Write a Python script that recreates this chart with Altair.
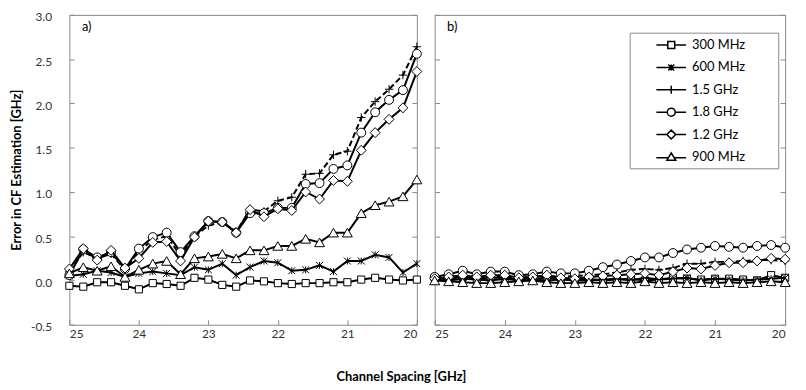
import altair as alt
import pandas as pd

# ---------------- data ----------------
spacing = [25.0, 24.8, 24.6, 24.4, 24.2, 24.0, 23.8, 23.6, 23.4, 23.2, 23.0, 22.8, 22.6,
           22.4, 22.2, 22.0, 21.8, 21.6, 21.4, 21.2, 21.0, 20.8, 20.6, 20.4, 20.2, 20.0]

series = ["300 MHz", "600 MHz", "1.5 GHz", "1.8 GHz", "1.2 GHz", "900 MHz"]

# panel a)
a_300 = [-0.06, -0.07, -0.02, -0.02, -0.06, -0.10, -0.03, -0.04, -0.06, 0.03, 0.01, -0.05, -0.07,
         0.00, -0.01, -0.03, -0.04, -0.03, -0.03, -0.02, -0.02, 0.01, 0.03, 0.01, 0.00, 0.01]
a_600 = [0.05, 0.07, 0.11, 0.09, 0.04, 0.08, 0.10, 0.08, 0.06, 0.15, 0.12, 0.19, 0.06,
         0.15, 0.22, 0.20, 0.11, 0.12, 0.17, 0.10, 0.22, 0.22, 0.29, 0.26, 0.09, 0.19]
a_1500 = [0.10, 0.32, 0.25, 0.30, 0.12, 0.33, 0.46, 0.50, 0.28, 0.50, 0.62, 0.66, 0.55,
          0.80, 0.78, 0.90, 0.94, 1.20, 1.21, 1.42, 1.46, 1.84, 2.02, 2.16, 2.32, 2.64]
a_1800 = [0.06, 0.35, 0.26, 0.32, 0.13, 0.36, 0.49, 0.54, 0.32, 0.50, 0.67, 0.66, 0.54,
          0.76, 0.76, 0.82, 0.82, 1.09, 1.10, 1.26, 1.30, 1.67, 1.90, 2.04, 2.15, 2.56]
a_1200 = [0.13, 0.36, 0.23, 0.34, 0.14, 0.25, 0.43, 0.44, 0.22, 0.49, 0.67, 0.66, 0.54,
          0.80, 0.72, 0.81, 0.79, 1.00, 0.92, 1.13, 1.12, 1.47, 1.67, 1.82, 1.95, 2.36]
a_900 = [0.08, 0.15, 0.11, 0.16, 0.04, 0.12, 0.19, 0.22, 0.07, 0.25, 0.27, 0.30, 0.25,
         0.34, 0.34, 0.39, 0.39, 0.47, 0.43, 0.54, 0.54, 0.76, 0.85, 0.89, 0.95, 1.14]

# panel b)
b_300 = [0.03, 0.02, 0.04, 0.02, 0.03, 0.03, 0.01, 0.02, 0.03, 0.02, 0.01, 0.02, 0.00,
         0.01, 0.02, 0.00, 0.01, 0.03, 0.02, 0.01, 0.02, 0.02, 0.01, 0.00, 0.06, 0.03]
b_600 = [0.01, 0.00, 0.02, 0.01, 0.00, 0.02, 0.00, 0.01, 0.00, 0.01, 0.00, 0.00, 0.01,
         0.02, 0.00, 0.03, 0.01, 0.02, 0.03, 0.00, 0.02, 0.01, 0.00, 0.01, 0.02, 0.03]
b_1500 = [0.03, 0.04, 0.05, 0.03, 0.05, 0.04, 0.03, 0.04, 0.05, 0.04, 0.05, 0.06, 0.07,
          0.09, 0.12, 0.13, 0.12, 0.14, 0.19, 0.19, 0.21, 0.21, 0.22, 0.23, 0.23, 0.22]
b_1800 = [0.04, 0.07, 0.11, 0.07, 0.10, 0.10, 0.06, 0.07, 0.10, 0.08, 0.08, 0.11, 0.15,
          0.18, 0.22, 0.26, 0.26, 0.31, 0.35, 0.37, 0.39, 0.38, 0.37, 0.39, 0.40, 0.37]
b_1200 = [0.02, 0.04, 0.06, 0.04, 0.06, 0.06, 0.03, 0.04, 0.06, 0.03, 0.02, 0.04, 0.05,
          0.06, 0.07, 0.08, 0.06, 0.10, 0.14, 0.13, 0.17, 0.20, 0.20, 0.22, 0.25, 0.24]
b_900 = [0.00, -0.01, -0.02, -0.03, -0.03, -0.02, -0.01, 0.00, -0.02, -0.03, -0.03, -0.02, -0.03,
         -0.02, -0.03, -0.01, -0.03, -0.02, -0.03, -0.02, -0.03, -0.02, -0.03, -0.02, -0.01, -0.02]

x_ticks = [20, 21, 22, 23, 24, 25]
y_ticks = [-0.5, 0.0, 0.5, 1.0, 1.5, 2.0, 2.5, 3.0]

FONT = "Lato"
GRAY = "#898989"

def long_df(cols):
    rows = []
    for name, vals in zip(series, cols):
        for xv, yv in zip(spacing, vals):
            rows.append({"x": xv, "v": yv, "s": name})
    return pd.DataFrame(rows)

df_a = long_df([a_300, a_600, a_1500, a_1800, a_1200, a_900])
df_b = long_df([b_300, b_600, b_1500, b_1800, b_1200, b_900])

# plot markers
marker = {
    "300 MHz": ("square", 52),
    "600 MHz": ("M-1,-1L1,1M-1,1L1,-1M0,-1L0,1", 49),
    "1.5 GHz": ("M-1,0L1,0M0,-1L0,1", 72),
    "1.8 GHz": ("circle", 81),
    "1.2 GHz": ("diamond", 100),
    "900 MHz": ("triangle-up", 100),
}

# legend symbols: line with marker, drawn in a 15px unit box (1 unit = 7.5px)
L0, L1, c = 1.93, 5.93, 3.93
legend_paths = [
    f"M{L0},0H{c-0.467}M{c+0.467},0H{L1}M{c-0.467},-0.467H{c+0.467}V0.467H{c-0.467}Z",
    f"M{L0},0H{L1}M{c-0.4},-0.4L{c+0.4},0.4M{c-0.4},0.4L{c+0.4},-0.4M{c},-0.4V0.4",
    f"M{L0},0H{L1}M{c},-0.533V0.533",
    f"M{L0},0H{c-0.533}M{c+0.533},0H{L1}M{c+0.533},0A0.533,0.533 0 1,1 {c-0.533},0A0.533,0.533 0 1,1 {c+0.533},0Z",
    f"M{L0},0H{c-0.6}M{c+0.6},0H{L1}M{c},-0.6L{c+0.6},0L{c},0.6L{c-0.6},0Z",
    f"M{L0},0.1H{c-0.4}M{c+0.4},0.1H{L1}M{c},-0.55L{c+0.6},0.45L{c-0.6},0.45Z",
]


def make_panel(df, tag, first):
    x_enc = alt.X(
        "x:Q",
        scale=alt.Scale(domain=[20, 25], reverse=True, nice=False, zero=False),
        axis=alt.Axis(values=x_ticks, format="d", title=None, offset=-5, tickSize=5,
                      domain=False, grid=False, labelPadding=4, tickColor=GRAY,
                      labelFont=FONT, labelFontSize=12, labelColor="#333"),
    )
    y_enc = alt.Y(
        "v:Q",
        scale=alt.Scale(domain=[-0.5, 3.0], nice=False, zero=False),
        axis=alt.Axis(values=y_ticks,
                      labelExpr="datum.value < 0 ? '-' + format(-datum.value, '.1f') : format(datum.value, '.1f')",
                      title="Error in CF Estimation [GHz]" if first else None,
                      titleFont=FONT, titleFontSize=13, titleFontWeight="bold", titleColor="black",
                      titlePadding=7,
                      labels=first, offset=-5, tickSize=5, domain=False, grid=False,
                      labelPadding=18, labelOffset=2, tickColor=GRAY,
                      labelFont=FONT, labelFontSize=12, labelColor="#333"),
    )
    y_right = alt.Y(
        "v:Q",
        scale=alt.Scale(domain=[-0.5, 3.0], nice=False, zero=False),
        axis=alt.Axis(values=y_ticks, orient="right", labels=False, title=None, offset=-5,
                      tickSize=5, domain=False, grid=False, tickColor=GRAY),
    )
    base = alt.Chart(df)
    layers = []
    for name in series:
        shp, sz = marker[name]
        sub = base.transform_filter(alt.datum.s == name)
        line_kw = dict(color="black", strokeWidth=2)
        if name == "1.5 GHz":
            line_kw["strokeDash"] = [6, 3]
        layers.append(sub.mark_line(**line_kw).encode(x=x_enc, y=y_enc))
        layers.append(
            sub.mark_point(shape=shp, size=sz, filled=True, fill="white", stroke="black",
                           strokeWidth=1, opacity=1).encode(x=x_enc, y=y_enc)
        )
    lab = pd.DataFrame({"x": [24.75], "v": [2.86]})
    layers.append(
        alt.Chart(lab).mark_text(text=tag, font=FONT, fontSize=13, color="black")
        .encode(x=x_enc, y=y_enc)
    )
    if not first:
        leg = (
            alt.Chart(pd.DataFrame({"s": series}))
            .transform_filter("false")
            .mark_point(filled=True, fill="white", stroke="black", strokeWidth=1.5, opacity=1)
            .encode(
                shape=alt.Shape(
                    "s:N",
                    scale=alt.Scale(domain=series, range=legend_paths),
                    legend=alt.Legend(
                        title="000", titleOpacity=0, titleOrient="right", titleFontSize=13,
                        titleFont=FONT, titlePadding=6,
                        orient="none", legendX=566, legendY=18,
                        padding=4, strokeColor=GRAY, fillColor="white",
                        symbolSize=225, symbolStrokeWidth=1.5,
                        labelFont=FONT, labelFontSize=13, labelColor="black",
                        labelOffset=42, rowPadding=6.6,
                    ),
                )
            )
        )
        layers.append(leg)
    inner = alt.layer(*layers)
    right = base.transform_filter(alt.datum.s == series[0]).mark_point(opacity=0).encode(x=x_enc, y=y_right)
    return alt.layer(inner, right).resolve_axis(y="independent").properties(width=351, height=313)


pa = make_panel(df_a, "a)", True)
pb = make_panel(df_b, "b)", False).properties(width=354)

chart = (
    alt.hconcat(pa, pb, spacing=18, bounds="flush")
    .properties(
        title=alt.TitleParams("Channel Spacing [GHz]", orient="bottom", anchor="middle",
                              font=FONT, fontSize=13, fontWeight="bold", color="black", offset=31),
        padding={"left": 2, "top": 0, "right": 5, "bottom": 5},
    )
    .configure_view(stroke=GRAY, strokeWidth=1)
)

chart.save("out.html", embed_options={"renderer": "svg", "actions": False})
